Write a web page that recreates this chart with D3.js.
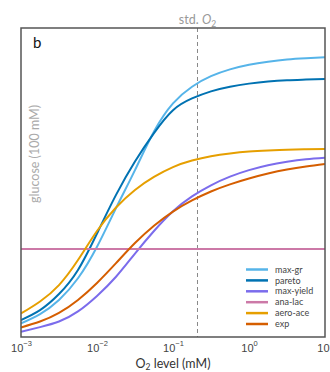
<!DOCTYPE html>
<html>
<head>
<meta charset="utf-8">
<script src="https://cdn.jsdelivr.net/npm/d3@7"></script>
<style>
  body { margin: 0; background: #fff; }
  svg { display: block; font-family: Lato, "Open Sans", sans-serif; }
</style>
</head>
<body>
<div id="chart"></div>
<script>
const o2 = [0.001, 0.00178, 0.00316, 0.00562, 0.01, 0.0178, 0.0316, 0.0562,
            0.1, 0.178, 0.316, 0.562, 1, 1.78, 3.16, 5.62, 10];

// glucose uptake, arbitrary units (0 = bottom of frame, 100 = top)
const maxGr    = [4.4, 7.4, 12.0, 19.0, 29.2, 41.7, 54.0, 66.5, 75.6, 81.0, 84.4, 86.6, 88.1, 89.1, 89.8, 90.2, 90.5];
const pareto   = [5.5, 8.7, 13.9, 21.7, 33.5, 46.0, 56.8, 66.0, 73.4, 77.2, 79.5, 81.0, 82.0, 82.7, 83.1, 83.3, 83.5];
const maxYield = [1.7, 3.2, 5.0, 8.3, 13.3, 19.5, 27.0, 34.3, 40.7, 45.5, 49.1, 51.9, 54.0, 55.6, 56.7, 57.5, 58.0];
const anaLac   = [28.5, 28.5, 28.5, 28.5, 28.5, 28.5, 28.5, 28.5, 28.5, 28.5, 28.5, 28.5, 28.5, 28.5, 28.5, 28.5, 28.5];
const aeroAce  = [7.6, 11.5, 16.8, 24.9, 34.3, 41.9, 47.6, 51.8, 55.0, 57.1, 58.5, 59.4, 60.0, 60.35, 60.6, 60.75, 60.85];
const expt     = [3.1, 5.0, 7.8, 12.0, 17.5, 23.9, 30.4, 36.0, 40.6, 44.2, 47.1, 49.4, 51.3, 52.9, 54.2, 55.2, 56.0];

const seriesNames = ['max-gr', 'pareto', 'max-yield', 'ana-lac', 'aero-ace', 'exp'];
const seriesValues = [maxGr, pareto, maxYield, anaLac, aeroAce, expt];
const seriesColors = ['#56b4e9', '#0072b2', '#7b6cec', '#cc79a7', '#e69f00', '#d55e00'];

const xTicks = [0.001, 0.01, 0.1, 1, 10];
const tickExp = ['\u22123', '\u22122', '\u22121', '0', '1'];
const stdO2 = 0.21;

const W = 330, H = 372;
const M_LEFT = 21, M_RIGHT = 325, M_TOP = 28, M_BOTTOM = 337;

const svg = d3.select('#chart').append('svg')
  .attr('width', W).attr('height', H);

const x = d3.scaleLog().domain([1e-3, 10]).range([M_LEFT, M_RIGHT]);
const y = d3.scaleLinear().domain([0, 100]).range([M_BOTTOM, M_TOP]);

svg.append('defs').append('clipPath').attr('id', 'clip')
  .append('rect').attr('x', M_LEFT).attr('y', M_TOP)
  .attr('width', M_RIGHT - M_LEFT).attr('height', M_BOTTOM - M_TOP);

// std O2 marker
svg.append('line')
  .attr('x1', x(stdO2)).attr('x2', x(stdO2))
  .attr('y1', M_TOP).attr('y2', M_BOTTOM)
  .attr('stroke', '#888').attr('stroke-width', 1)
  .attr('stroke-dasharray', '4,3');

const stdLabel = svg.append('text')
  .attr('x', x(stdO2)).attr('y', 24)
  .attr('text-anchor', 'middle')
  .attr('fill', '#999').attr('font-size', 12.5);
stdLabel.append('tspan').text('std. ');
stdLabel.append('tspan').attr('font-style', 'italic').text('O');
stdLabel.append('tspan').attr('font-size', 8.5).attr('dy', 3).text('2');

// curves
const line = d3.line()
  .x((d, i) => x(o2[i]))
  .y(d => y(d))
  .curve(d3.curveNatural);

svg.append('g').attr('clip-path', 'url(#clip)')
  .selectAll('path')
  .data(seriesValues)
  .join('path')
  .attr('d', d => line(d))
  .attr('fill', 'none')
  .attr('stroke', (d, i) => seriesColors[i])
  .attr('stroke-width', 2);

// frame
svg.append('rect')
  .attr('x', M_LEFT).attr('y', M_TOP)
  .attr('width', M_RIGHT - M_LEFT).attr('height', M_BOTTOM - M_TOP)
  .attr('fill', 'none').attr('stroke', '#555').attr('stroke-width', 1.5);

// x axis
const xAxis = svg.append('g')
  .attr('transform', `translate(0,${M_BOTTOM})`)
  .call(d3.axisBottom(x).tickValues(xTicks).tickSize(0).tickPadding(7).tickFormat(() => ''));
xAxis.select('.domain').remove();
xAxis.selectAll('.tick text')
  .attr('fill', '#444').attr('font-size', 11)
  .each(function(d, i) {
    const t = d3.select(this);
    t.append('tspan').text('10');
    t.append('tspan').attr('font-size', 7.5).attr('dy', -5.5).text(tickExp[i]);
  });

svg.append('text')
  .attr('x', (M_LEFT + M_RIGHT) / 2).attr('y', 368)
  .attr('text-anchor', 'middle')
  .attr('fill', '#333').attr('font-size', 12.5)
  .call(t => {
    t.append('tspan').text('O');
    t.append('tspan').attr('font-size', 8.5).attr('dy', 2).text('2');
    t.append('tspan').attr('dy', -2).text(' level (mM)');
  });

// y label
svg.append('text')
  .attr('transform', 'translate(39,154) rotate(-90)')
  .attr('text-anchor', 'middle')
  .attr('fill', '#aaa').attr('font-size', 12.5)
  .text('glucose (100 mM)');

// panel letter
svg.append('text')
  .attr('x', 33).attr('y', 48)
  .attr('fill', '#111').attr('font-size', 15)
  .text('b');

// legend
const legend = svg.append('g')
  .selectAll('g')
  .data(seriesNames)
  .join('g')
  .attr('transform', (d, i) => `translate(246,${269.5 + i * 10.9})`);
legend.append('line')
  .attr('x1', 0).attr('x2', 22)
  .attr('stroke', (d, i) => seriesColors[i])
  .attr('stroke-width', 2.5);
legend.append('text')
  .attr('x', 29).attr('dy', '0.35em')
  .attr('fill', '#444').attr('font-size', 9)
  .text(d => d);
</script>
</body>
</html>
